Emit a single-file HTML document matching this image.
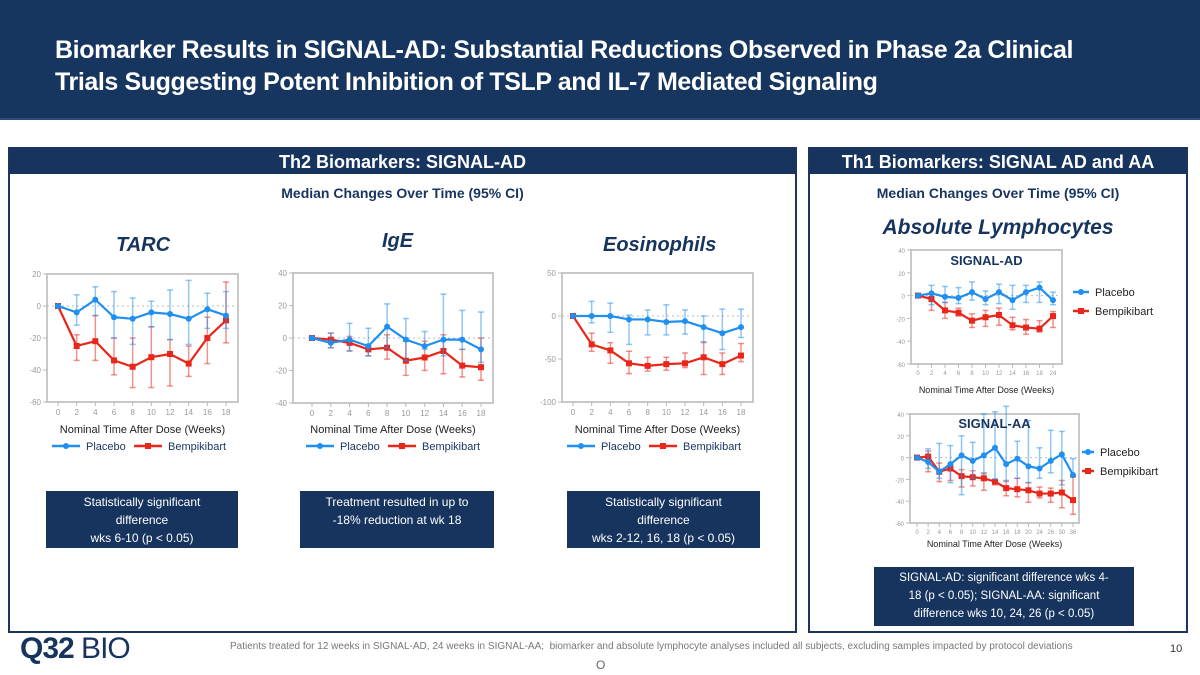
<!DOCTYPE html>
<html><head><meta charset="utf-8">
<style>
body{margin:0;width:1200px;height:675px;position:relative;background:#fff;font-family:"Liberation Sans",sans-serif;overflow:hidden}
.abs{position:absolute}
#hdr{left:0;top:0;width:1200px;height:118px;background:#16365f;border-bottom:2px solid #2c4d7a}
#title{left:55px;top:34px;color:#fff;font-weight:bold;font-size:25px;line-height:32px;letter-spacing:-0.4px}
.panel{border:2px solid #1a3560;box-sizing:border-box}
.ph{background:#17345f;color:#fff;font-weight:bold;font-size:18px;text-align:center;height:25px;line-height:27px}
.sub{color:#17345f;font-weight:bold;font-size:14px;text-align:center}
.ct{color:#17345f;font-weight:bold;font-style:italic;font-size:20px}
.box{background:#17345f;color:#fff;font-size:12px;text-align:center;line-height:18px;box-sizing:border-box;padding-top:2px;white-space:nowrap}
svg text{font-family:"Liberation Sans",sans-serif}
</style></head><body>
<div class="abs" id="hdr"></div>
<div class="abs" id="title">Biomarker Results in SIGNAL-AD: Substantial Reductions Observed in Phase 2a Clinical<br>Trials Suggesting Potent Inhibition of TSLP and IL-7 Mediated Signaling</div>

<div class="abs panel" style="left:8px;top:147px;width:789px;height:486px">
 <div class="ph">Th2 Biomarkers: SIGNAL-AD</div>
</div>
<div class="abs panel" style="left:808px;top:147px;width:380px;height:486px">
 <div class="ph">Th1 Biomarkers: SIGNAL AD and AA</div>
</div>
<div class="abs sub" style="left:8px;top:185px;width:789px">Median Changes Over Time (95% CI)</div>
<div class="abs sub" style="left:808px;top:185px;width:380px">Median Changes Over Time (95% CI)</div>
<div class="abs ct" style="left:116px;top:234px">TARC</div>
<div class="abs ct" style="left:382px;top:230px">IgE</div>
<div class="abs ct" style="left:603px;top:234px">Eosinophils</div>
<div class="abs ct" style="left:808px;top:216px;width:380px;text-align:center;font-size:21px">Absolute Lymphocytes</div>

<div class="abs box" style="left:46px;top:491px;width:192px;height:57px">Statistically significant<br>difference<br>wks 6-10 (p &lt; 0.05)</div>
<div class="abs box" style="left:300px;top:491px;width:194px;height:57px">Treatment resulted in up to<br>-18% reduction at wk 18</div>
<div class="abs box" style="left:567px;top:491px;width:193px;height:57px">Statistically significant<br>difference<br>wks 2-12, 16, 18 (p &lt; 0.05)</div>
<div class="abs box" style="left:874px;top:567px;width:260px;height:59px;font-size:11.5px">SIGNAL-AD: significant difference wks 4-<br>18 (p &lt; 0.05); SIGNAL-AA: significant<br>difference wks 10, 24, 26 (p &lt; 0.05)</div>

<div class="abs" style="left:20px;top:632px;font-size:30px;color:#17345f;letter-spacing:-1px"><b>Q32</b><span style="font-weight:normal"> BIO</span></div>
<div class="abs" style="left:230px;top:641px;font-size:10px;color:#777">Patients treated for 12 weeks in SIGNAL-AD, 24 weeks in SIGNAL-AA;&nbsp; biomarker and absolute lymphocyte analyses included all subjects, excluding samples impacted by protocol deviations</div>
<div class="abs" style="left:1170px;top:643px;font-size:11px;color:#333">10</div>
<div class="abs" style="left:596px;top:658px;font-size:12px;color:#666">O</div>

<svg id="svg" class="abs" style="left:0;top:0" width="1200" height="675"></svg>

<script>
const wk18 = ["0","2","4","6","8","10","12","14","16","18"];
const tarcPl = [0,-4,4,-7,-8,-4,-5,-8,-2,-6];
const tarcPlUp = [0,7,12,9,5,3,10,16,8,9];
const tarcPlLo = [0,-12,-6,-20,-24,-13,-21,-24,-14,-14];
const tarcBe = [0,-25,-22,-34,-38,-32,-30,-36,-20,-9];
const tarcBeUp = [0,-18,-6,-20,-20,-13,-21,-25,-7,15];
const tarcBeLo = [0,-34,-34,-43,-51,-51,-50,-44,-36,-23];
const tarcTicks = [20,0,-20,-40,-60];

const igePl = [0,-3,-1,-5,7,-1,-5,-1,-1,-7];
const igePlUp = [0,3,9,6,21,12,4,27,17,16];
const igePlLo = [0,-6,-8,-11,-6,-14,-7,-11,-7,-15];
const igeBe = [0,-1,-3,-7,-6,-14,-12,-8,-17,-18];
const igeBeUp = [0,3,1,-4,2,-2,-2,2,-7,0];
const igeBeLo = [0,-6,-8,-11,-13,-23,-20,-22,-24,-26];
const igeTicks = [40,20,0,-20,-40];

const eosPl = [0,0,0,-4,-4,-7,-6,-13,-20,-13];
const eosPlUp = [0,17,15,1,7,13,7,0,8,8];
const eosPlLo = [0,-8,-19,-33,-22,-22,-21,-31,-39,-25];
const eosBe = [0,-33,-40,-55,-58,-56,-55,-48,-56,-46];
const eosBeUp = [0,-20,-31,-41,-48,-48,-43,-30,-43,-32];
const eosBeLo = [0,-41,-55,-67,-64,-63,-60,-68,-68,-53];
const eosTicks = [50,0,-50,-100];

const adWeeks = ["0","2","4","6","8","10","12","14","16","18","24"];
const adPl = [0,2,-1,-2,3,-3,3,-4,3,7,-4];
const adPlUp = [0,9,8,7,12,4,10,9,9,12,3];
const adPlLo = [0,-8,-6,-7,-4,-8,-7,-12,-6,-6,-8];
const adBe = [0,-3,-13,-15,-22,-19,-17,-26,-28,-29,-18];
const adBeUp = [0,1,-6,-11,-16,-13,-11,-19,-21,-22,-14];
const adBeLo = [0,-13,-20,-18,-28,-27,-26,-30,-34,-32,-28];
const lymTicks = [40,20,0,-20,-40,-60];

const aaWeeks = ["0","2","4","6","8","10","12","14","16","18","20","24","26","30","36"];
const aaPl = [0,-4,-13,-6,2,-3,2,9,-6,-1,-8,-10,-3,3,-16];
const aaPlUp = [0,8,13,11,20,14,40,42,47,15,34,9,25,24,-1];
const aaPlLo = [0,-10,-19,-23,-34,-19,-15,-20,-22,-19,-23,-19,-14,-25,-17];
const aaBe = [0,1,-13,-10,-17,-18,-19,-22,-28,-29,-30,-33,-33,-32,-39];
const aaBeUp = [0,6,-5,-7,-11,-12,-14,-20,-21,-19,-23,-27,-28,-21,-18];
const aaBeLo = [0,-13,-22,-21,-27,-26,-30,-25,-35,-36,-41,-37,-41,-46,-52];

const NS="http://www.w3.org/2000/svg";
const svg=document.getElementById('svg');
function mk(t,a,p){const e=document.createElementNS(NS,t);for(const k in a)e.setAttribute(k,a[k]);(p||svg).appendChild(e);return e;}
const BLUE="#1f8ff0", RED="#e8261a";

function chart(c){
  const g=mk('g',{});
  
  
  const ymax=c.ticks[0], ymin=c.ticks[c.ticks.length-1];
  const y=v=>c.ft+(ymax-v)/(ymax-ymin)*(c.fb-c.ft);
  const n=c.cats.length;
  const x=i=>c.x0+i*(c.x1-c.x0)/(n-1);
  const fr=mk('rect',{x:c.fl,y:c.ft,width:c.fr-c.fl,height:c.fb-c.ft,fill:'none',stroke:'#c8c8c8','stroke-width':2},g);
  
  
  c.ticks.forEach(t=>{
    mk('line',{x1:c.fl-4,x2:c.fl,y1:y(t),y2:y(t),stroke:'#bbb'},g);
    const tx=mk('text',{x:c.fl-6,y:y(t)+3,'font-size':c.fs,'text-anchor':'end',fill:'#999'},g);tx.textContent=t;
    
    
  });
  mk('line',{x1:c.fl,x2:c.fr,y1:y(0),y2:y(0),stroke:'#bbb','stroke-dasharray':'2,3'},g);
  c.cats.forEach((cat,i)=>{
    mk('line',{x1:x(i),x2:x(i),y1:c.fb,y2:c.fb+4,stroke:'#bbb'},g);
    const tx=mk('text',{x:x(i),y:c.fb+c.fs+5,'font-size':c.fs,'text-anchor':'middle',fill:'#999'},g);tx.textContent=cat;
    
    
  });
  const at=mk('text',{x:(c.fl+c.fr)/2,y:c.titleY,'font-size':c.tfs,'text-anchor':'middle',fill:'#222'},g);
  at.textContent='Nominal Time After Dose (Weeks)';
  
  
  [[c.be,c.beUp,c.beLo,RED,'bempikibart'],[c.pl,c.plUp,c.plLo,BLUE,'placebo']].forEach(s=>{
    const [v,up,lo,col,nm]=s;
    v.forEach((_,i)=>{ if(i===0)return;
      mk('line',{x1:x(i),x2:x(i),y1:y(up[i]),y2:y(lo[i]),stroke:col,'stroke-opacity':0.5,'stroke-width':1.5},g);
      mk('line',{x1:x(i)-3,x2:x(i)+3,y1:y(up[i]),y2:y(up[i]),stroke:col,'stroke-opacity':0.5,'stroke-width':1.5},g);
      mk('line',{x1:x(i)-3,x2:x(i)+3,y1:y(lo[i]),y2:y(lo[i]),stroke:col,'stroke-opacity':0.5,'stroke-width':1.5},g);
    });
    const ln=mk('polyline',{points:v.map((d,i)=>x(i)+','+y(d)).join(' '),fill:'none',stroke:col,'stroke-width':2.2},g);
    
    
    v.forEach((d,i)=>{
      const m= col===RED ? mk('rect',{x:x(i)-3,y:y(d)-3,width:6,height:6,fill:col},g) : mk('circle',{cx:x(i),cy:y(d),r:3,fill:col},g);
      
      
    });
  });
  if(c.leg){
    const L=c.leg;
    L.items.forEach((it,k)=>{
      const lx=L.x+(L.dx||0)*k, ly=L.y+(L.dy||0)*k;
      mk('line',{x1:lx,x2:lx+L.w,y1:ly,y2:ly,stroke:it[1],'stroke-width':2.5},g);
      if(it[1]===RED) mk('rect',{x:lx+L.w/2-3,y:ly-3,width:6,height:6,fill:RED},g); else mk('circle',{cx:lx+L.w/2,cy:ly,r:3,fill:BLUE},g);
      const t=mk('text',{x:lx+L.w+6,y:ly+4,'font-size':L.fs,fill:L.col},g);t.textContent=it[0];
      
      
    });
  }
  if(c.label){const t=mk('text',{x:(c.fl+c.fr)/2,y:c.ft+c.label.dy,'font-size':13,'font-weight':'bold','text-anchor':'middle',fill:'#17345f'},g);t.textContent=c.label.t;
    
    }
}
const legTh2=(x0)=>({x:x0,y:446,dx:82,w:28,fs:11,col:'#17345f',items:[['Placebo',BLUE],['Bempikibart',RED]]});
chart({name:'tarc-chart',cats:wk18,ticks:tarcTicks,pl:tarcPl,plUp:tarcPlUp,plLo:tarcPlLo,be:tarcBe,beUp:tarcBeUp,beLo:tarcBeLo,
  fl:47,fr:238,ft:274,fb:402,x0:58,x1:226,fs:8,tfs:11,titleY:433,leg:legTh2(52)});
chart({name:'ige-chart',cats:wk18,ticks:igeTicks,pl:igePl,plUp:igePlUp,plLo:igePlLo,be:igeBe,beUp:igeBeUp,beLo:igeBeLo,
  fl:293,fr:493,ft:273,fb:403,x0:312,x1:481,fs:8,tfs:11,titleY:433,leg:legTh2(306)});
chart({name:'eosinophils-chart',cats:wk18,ticks:eosTicks,pl:eosPl,plUp:eosPlUp,plLo:eosPlLo,be:eosBe,beUp:eosBeUp,beLo:eosBeLo,
  fl:562,fr:753,ft:273,fb:402,x0:573,x1:741,fs:8,tfs:11,titleY:433,leg:legTh2(567)});
chart({name:'signal-ad-lymphocytes-chart',cats:adWeeks,ticks:lymTicks,pl:adPl,plUp:adPlUp,plLo:adPlLo,be:adBe,beUp:adBeUp,beLo:adBeLo,
  fl:911,fr:1062,ft:250,fb:364,x0:918,x1:1053,fs:6,tfs:9,titleY:393,label:{t:'SIGNAL-AD',dy:15},
  leg:{x:1073,y:292,dy:19,w:16,fs:11,col:'#222',items:[['Placebo',BLUE],['Bempikibart',RED]]}});
chart({name:'signal-aa-lymphocytes-chart',cats:aaWeeks,ticks:lymTicks,pl:aaPl,plUp:aaPlUp,plLo:aaPlLo,be:aaBe,beUp:aaBeUp,beLo:aaBeLo,
  fl:910,fr:1079,ft:414,fb:523,x0:917,x1:1073,fs:6,tfs:9,titleY:547,label:{t:'SIGNAL-AA',dy:14},
  leg:{x:1082,y:452,dy:19,w:12,fs:11,col:'#222',items:[['Placebo',BLUE],['Bempikibart',RED]]}});
</script>
</body></html>
